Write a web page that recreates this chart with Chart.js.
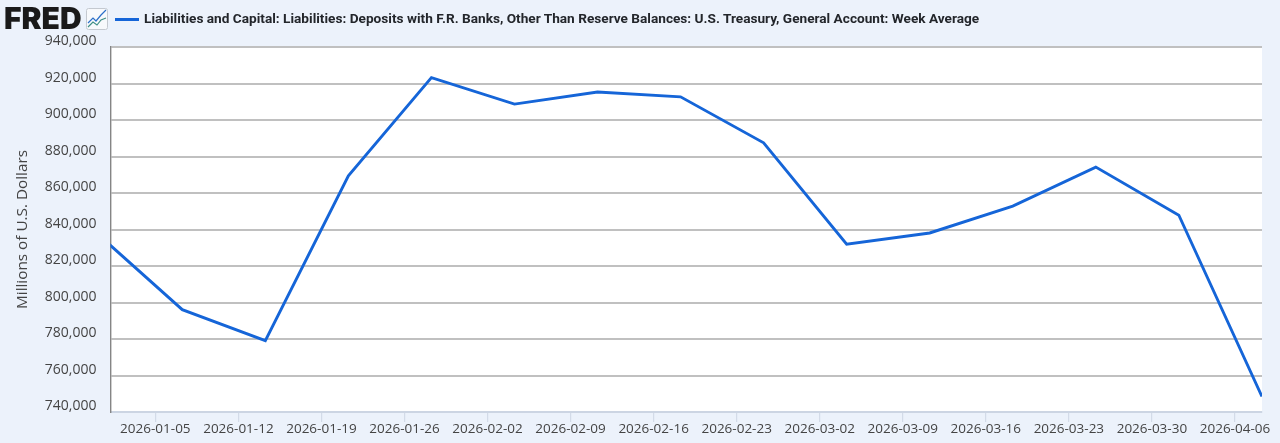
<!DOCTYPE html>
<html lang="en">
<head>
  <meta charset="UTF-8">
  <title>U.S. Treasury, General Account: Week Average</title>
  <script src="https://cdn.jsdelivr.net/npm/chart.js@4"></script>
  <style>
    html, body { margin: 0; padding: 0; background: #ecf2fb; overflow: hidden; }
    #wrap { position: relative; width: 1280px; height: 443px; }
    #logo { position: absolute; left: 4px; top: 0; font: 900 30px/36px Inter, sans-serif; letter-spacing: 0; color: #1a1a1a; }
    #icon { position: absolute; left: 86px; top: 8px; }
    #swatch { position: absolute; left: 115px; top: 18px; width: 24px; height: 3px; background: #1565d8; }
    #legend { position: absolute; left: 144px; top: 10px; font: 700 13.65px/17px Roboto, sans-serif; color: #23262b; white-space: nowrap; }
  </style>
</head>
<body>
<div id="wrap">
  <canvas id="treasuryChart" width="1280" height="443"></canvas>
  <div id="logo">FRED</div>
  <svg id="icon" width="22" height="22" viewBox="0 0 22 22">
    <rect x="0.5" y="0.5" width="21" height="21" rx="2" fill="#f7f9fc" stroke="#c4c9d0"/>
    <polyline points="2,15 7,10 10,13 15,7 20,2" fill="none" stroke="#2b6fc9" stroke-width="1.2"/>
    <polyline points="2,19 7,14 11,17 15,12 20,10" fill="none" stroke="#3f8f86" stroke-width="1.2"/>
  </svg>
  <div id="swatch"></div>
  <div id="legend"></div>
</div>
<script>
  const seriesName = 'Liabilities and Capital: Liabilities: Deposits with F.R. Banks, Other Than Reserve Balances: U.S. Treasury, General Account: Week Average';
  const axisTitle = 'Millions of U.S. Dollars';
  const tickLabels = ['2026-01-05', '2026-01-12', '2026-01-19', '2026-01-26', '2026-02-02', '2026-02-09', '2026-02-16',
    '2026-02-23', '2026-03-02', '2026-03-09', '2026-03-16', '2026-03-23', '2026-03-30', '2026-04-06'];
  // weekly observations, the axis starts after the first one so it gets clipped
  const weekDates = ['2025-12-31T06:30Z', '2026-01-07T06:30Z', '2026-01-14T06:30Z', '2026-01-21T06:30Z', '2026-01-28T06:30Z',
    '2026-02-04T06:30Z', '2026-02-11T06:30Z', '2026-02-18T06:30Z', '2026-02-25T06:30Z', '2026-03-04T06:30Z',
    '2026-03-11T06:30Z', '2026-03-18T06:30Z', '2026-03-25T06:30Z', '2026-04-01T06:30Z', '2026-04-08T06:30Z'];
  const balances = [836800, 796100, 779100, 869400, 923200, 908700, 915300, 912700, 887500, 831900, 838100, 852800, 874200, 847800, 748500];
  const axisStart = '2026-01-01T05:17Z';
  const axisEnd = '2026-04-08T06:43Z';

  const gridColor = '#c0c0c0';

  function toDays(dateText) {
    return (Date.parse(dateText) - Date.parse(tickLabels[0])) / 864e5;
  }

  document.getElementById('legend').textContent = seriesName;

  const plotBackground = {
    id: 'plotBackground',
    beforeDraw(chart) {
      const a = chart.chartArea;
      chart.ctx.fillStyle = '#ffffff';
      chart.ctx.fillRect(a.left, a.top, a.right - a.left, a.bottom - a.top);
    }
  };

  new Chart(document.getElementById('treasuryChart').getContext('2d'), {
    type: 'line',
    data: {
      datasets: [{
        label: seriesName,
        data: weekDates.map((d, i) => ({ x: toDays(d), y: balances[i] })),
        borderColor: '#1565d8',
        borderWidth: 2.9,
        pointRadius: 0,
        tension: 0
      }]
    },
    options: {
      responsive: false,
      animation: false,
      layout: { padding: { top: 47, right: 18, left: 0, bottom: 0 } },
      plugins: { legend: { display: false }, tooltip: { enabled: false } },
      scales: {
        x: {
          type: 'linear',
          min: toDays(axisStart),
          max: toDays(axisEnd),
          afterBuildTicks(scale) {
            scale.ticks = tickLabels.map(t => ({ value: toDays(t) }));
          },
          afterFit(scale) { scale.height = 31; },
          grid: { drawOnChartArea: false, drawTicks: true, tickLength: 10, color: '#d3dbe8', lineWidth: 1.2 },
          border: { color: '#ccd5e3', width: 2 },
          ticks: {
            autoSkip: false,
            maxRotation: 0,
            padding: -1,
            color: '#444444',
            font: { family: '"Open Sans"', size: 13.5 },
            callback: value => tickLabels[Math.round(value / 7)]
          }
        },
        y: {
          min: 740000,
          max: 940000,
          afterFit(scale) { scale.width = 110.5; },
          grid: {
            drawTicks: false,
            color: ctx => (ctx.tick.value === 740000 ? 'rgba(0,0,0,0)' : gridColor),
            lineWidth: 2
          },
          border: { color: '#858585', width: 1.4 },
          title: {
            display: true,
            text: axisTitle,
            color: '#444444',
            font: { family: '"Open Sans"', size: 15.3 },
            padding: { top: 13, bottom: 0 }
          },
          ticks: {
            stepSize: 20000,
            padding: 14,
            labelOffset: -5.5,
            color: '#444444',
            font: { family: '"Open Sans"', size: 14 },
            callback: value => value.toLocaleString('en-US')
          }
        }
      }
    },
    plugins: [plotBackground]
  });
</script>
</body>
</html>
